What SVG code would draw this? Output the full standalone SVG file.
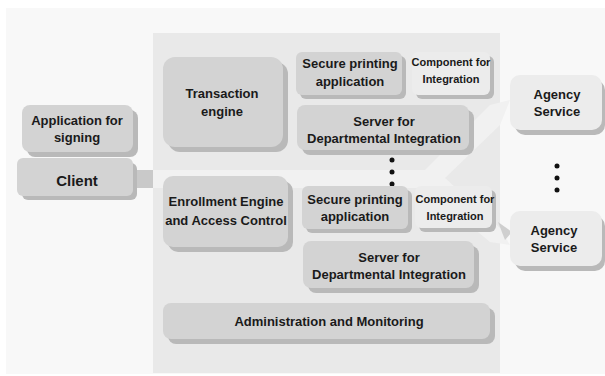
<svg xmlns="http://www.w3.org/2000/svg" width="605" height="376" viewBox="0 0 605 376">
<style>
text{font-family:"Liberation Sans",Arial,sans-serif;font-weight:bold;fill:#1a1a1a;text-anchor:middle}
.b{fill:#d3d3d3}
.l{fill:#ececec}
.s{fill:#b9b9b9}
.t{font-size:13px}
.c{font-size:11px}
</style>
<rect width="605" height="376" fill="#ffffff"/>
<rect x="6" y="8" width="599" height="366" fill="#f8f8f8"/>
<rect x="153" y="33" width="347" height="340" fill="#e9e9e9"/>
<g id="connectors">
<rect x="133" y="170" width="20" height="18" fill="#c9c9c9"/>
<polygon points="153,170 425,170 490,105 510,100 500,125 445,178 500,228 510,245 490,242 425,188 153,188" fill="#f1f1f1"/>
<polygon points="498,222 512,232 505,240" fill="#cfcfcf"/>
<g fill="#111">
<circle cx="392" cy="160" r="2.5"/><circle cx="392" cy="172" r="2.5"/><circle cx="392" cy="184" r="2.5"/>
<circle cx="557" cy="166" r="2.5"/><circle cx="557" cy="178" r="2.5"/><circle cx="557" cy="190" r="2.5"/>
</g>
</g>
<g id="app-signing"><rect class="s" x="27" y="110" width="111" height="47" rx="8"/><rect class="b" x="22" y="105" width="111" height="47" rx="8"/><text class="t" x="77" y="125">Application for</text><text class="t" x="77" y="142">signing</text></g>
<g id="client"><rect class="s" x="22" y="163" width="115" height="37" rx="6"/><rect class="b" x="17" y="158" width="116" height="38" rx="6"/><text x="77" y="186" font-size="15">Client</text></g>
<g id="transaction"><rect class="s" x="168" y="62" width="120" height="90" rx="12"/><rect class="b" x="163" y="57" width="120" height="90" rx="12"/><text class="t" x="222" y="98">Transaction</text><text class="t" x="222" y="116">engine</text></g>
<g id="secure1"><rect class="s" x="300" y="56" width="106" height="43" rx="6"/><rect class="b" x="296" y="52" width="106" height="43" rx="6"/><text class="t" x="350" y="68">Secure printing</text><text class="t" x="350" y="86">application</text></g>
<g id="component1"><rect class="s" x="416" y="56" width="78" height="43" rx="6"/><rect class="l" x="412" y="52" width="78" height="43" rx="6"/><text class="c" x="451" y="66">Component for</text><text class="c" x="451" y="83">Integration</text></g>
<g id="server1"><rect class="s" x="302" y="110" width="172" height="45" rx="8"/><rect class="b" x="297" y="105" width="172" height="45" rx="8"/><text class="t" x="384" y="126">Server for</text><text class="t" x="384" y="143">Departmental Integration</text></g>
<g id="enrollment"><rect class="s" x="168" y="181" width="125" height="71" rx="10"/><rect class="b" x="163" y="176" width="125" height="71" rx="10"/><text class="t" x="226" y="206">Enrollment Engine</text><text class="t" x="226" y="225">and  Access Control</text></g>
<g id="secure2"><rect class="s" x="306" y="190" width="106" height="43" rx="6"/><rect class="b" x="302" y="186" width="106" height="43" rx="6"/><text class="t" x="355" y="204">Secure printing</text><text class="t" x="355" y="221">application</text></g>
<g id="component2"><rect class="s" x="419" y="190" width="77" height="42" rx="6"/><rect class="l" x="415" y="186" width="77" height="42" rx="6"/><text class="c" x="455" y="203">Component for</text><text class="c" x="455" y="220">Integration</text></g>
<g id="server2"><rect class="s" x="308" y="246" width="171" height="47" rx="8"/><rect class="b" x="303" y="241" width="171" height="47" rx="8"/><text class="t" x="389" y="262">Server for</text><text class="t" x="389" y="279">Departmental Integration</text></g>
<g id="admin"><rect class="s" x="168" y="308" width="327" height="36" rx="8"/><rect class="b" x="163" y="303" width="327" height="36" rx="8"/><text class="t" x="329" y="326">Administration and Monitoring</text></g>
<g id="agency1"><rect class="s" x="515" y="80" width="90" height="55" rx="10"/><rect class="l" x="510" y="75" width="92" height="55" rx="10"/><text class="t" x="557" y="99">Agency</text><text class="t" x="557" y="116">Service</text></g>
<g id="agency2"><rect class="s" x="515" y="216" width="90" height="55" rx="10"/><rect class="l" x="510" y="211" width="92" height="55" rx="10"/><text class="t" x="554" y="235">Agency</text><text class="t" x="554" y="252">Service</text></g>
</svg>
